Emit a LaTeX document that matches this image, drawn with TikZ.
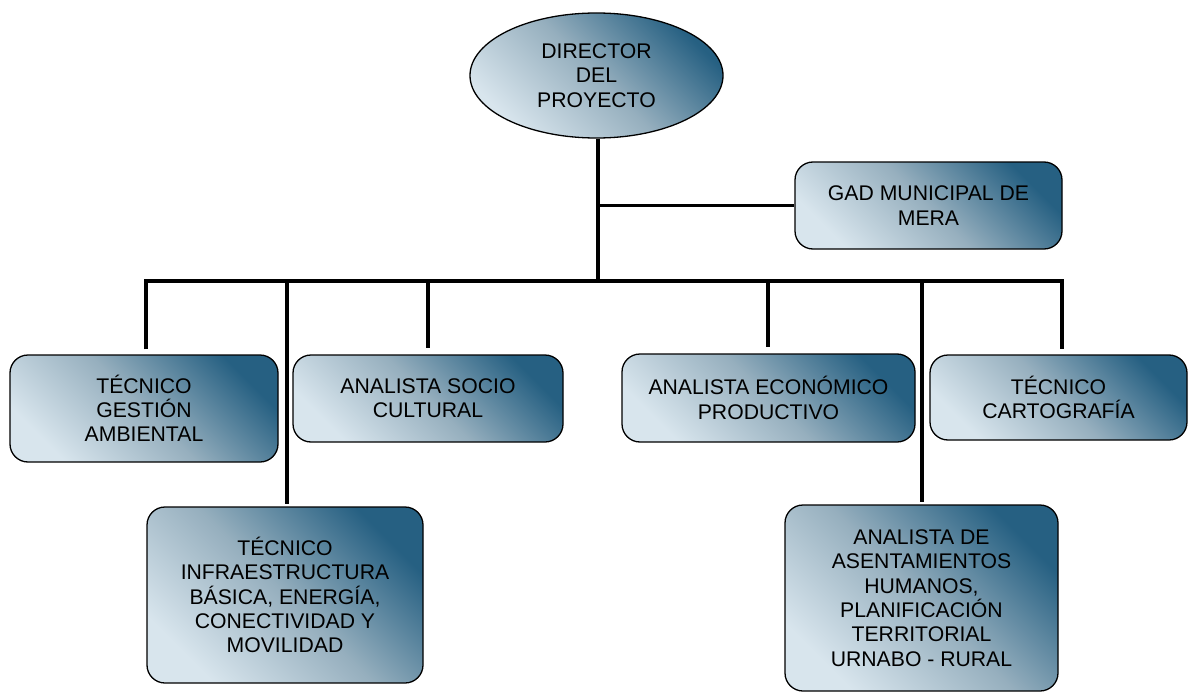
\documentclass[tikz,border=0pt]{standalone}
\usepackage{fontspec}
\setmainfont{Liberation Sans}
\usetikzlibrary{shapes.geometric}
\definecolor{gdark}{RGB}{38,96,130}
\definecolor{gmid}{RGB}{150,175,190}
\definecolor{glight}{RGB}{216,229,237}
\tikzset{
  gfill/.style={top color=gdark, bottom color=glight, middle color=gmid, shading angle=-45},
  txt/.style={align=center, inner sep=0pt, font=\fontsize{21.2}{24.3}\selectfont},
  box/.style={draw=black, line width=1.3pt, rounded corners=18pt, gfill, txt},
  oval/.style={ellipse, draw=black, line width=1.3pt, gfill, txt},
  conn/.style={line width=3.6pt, line join=miter}
}
\begin{document}
\begin{tikzpicture}[x=1pt, y=-1pt]
\useasboundingbox (0,0) rectangle (1189,693);
% nodes
\node[oval, minimum width=253pt, minimum height=125pt] (dir) at (596.5,75.5) {DIRECTOR\\DEL\\PROYECTO};
\node[box, minimum width=267pt, minimum height=87pt] (gad) at (928.5,205.5) {GAD MUNICIPAL DE\\MERA};
\node[box, minimum width=268pt, minimum height=107pt] (gest) at (144,408.5) {TÉCNICO\\GESTIÓN\\AMBIENTAL};
\node[box, minimum width=270pt, minimum height=87pt] (socio) at (428,398.5) {ANALISTA SOCIO\\CULTURAL};
\node[box, minimum width=293pt, minimum height=88pt] (econ) at (768.5,398) {ANALISTA ECONÓMICO\\PRODUCTIVO};
\node[box, minimum width=257pt, minimum height=85pt] (carto) at (1058.5,397.5) {TÉCNICO\\CARTOGRAFÍA};
\node[box, minimum width=276pt, minimum height=176pt] (infra) at (285,595) {TÉCNICO\\INFRAESTRUCTURA\\BÁSICA, ENERGÍA,\\CONECTIVIDAD Y\\MOVILIDAD};
\node[box, minimum width=273pt, minimum height=186pt] (asen) at (921.5,598) {ANALISTA DE\\ASENTAMIENTOS\\HUMANOS,\\PLANIFICACIÓN\\TERRITORIAL\\URNABO - RURAL};
% bus coordinates
\coordinate (t) at (598,281);
\coordinate (b1) at (146,281);
\coordinate (b2) at (287,281);
\coordinate (b3) at (428,281);
\coordinate (b4) at (768,281);
\coordinate (b5) at (922,281);
\coordinate (b6) at (1062,281);
% connectors
\draw[conn] (dir.south -| t) -- (t);
\draw[conn] (t |- gad.west) -- (gad.west);
\draw[conn] ([yshift=5pt]gest.north -| b1) -- (b1) -- (b6) -- ([yshift=5pt]carto.north -| b6);
\draw[conn] (b2) -- ([yshift=2pt]infra.north -| b2);
\draw[conn] (b3) -- ([yshift=6pt]socio.north -| b3);
\draw[conn] (b4) -- ([yshift=6pt]econ.north -| b4);
\draw[conn] (b5) -- ([yshift=2pt]asen.north -| b5);
\end{tikzpicture}
\end{document}
